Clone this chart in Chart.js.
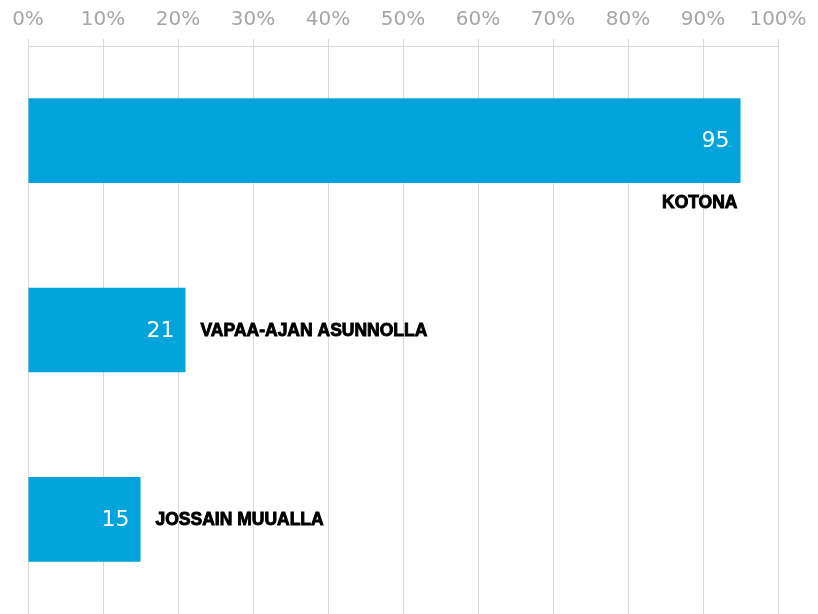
<!DOCTYPE html>
<html>
<head>
<meta charset="utf-8">
<script src="https://cdn.jsdelivr.net/npm/chart.js@4/dist/chart.umd.min.js"></script>
<style>
  html, body { margin: 0; padding: 0; background: #fff; }
  #wrap { width: 818px; height: 614px; position: relative; }
</style>
</head>
<body>
<div id="wrap"><canvas id="places"></canvas></div>
<script>
const categories = ['KOTONA', 'VAPAA-AJAN ASUNNOLLA', 'JOSSAIN MUUALLA'];
const values = [95, 21, 15];
const tickValues = [0, 10, 20, 30, 40, 50, 60, 70, 80, 90, 100];

const BAR = '#00a4db';
const GRID = '#d9d9d9';

// value inside the bar end, category name next to the bar (or under it when it won't fit)
const barLabels = {
    id: 'barLabels',
    afterDatasetsDraw(chart) {
        const ctx = chart.ctx;
        const meta = chart.getDatasetMeta(0);
        const area = chart.chartArea;
        ctx.save();
        meta.data.forEach((bar, i) => {
            ctx.font = '22px "DejaVu Sans", Verdana, sans-serif';
            ctx.fillStyle = '#ffffff';
            ctx.textAlign = 'right';
            ctx.textBaseline = 'middle';
            ctx.fillText(String(values[i]), bar.x - 11, bar.y + 1);

            ctx.font = 'bold 17.5px "Liberation Sans", Arial, sans-serif';
            ctx.fillStyle = '#000000';
            ctx.lineWidth = 0.9;
            ctx.strokeStyle = '#000000';
            const w = ctx.measureText(categories[i]).width;
            let tx, ty;
            if (bar.x + 15 + w > area.right) {
                ctx.textAlign = 'right';
                tx = bar.x - 3;
                ty = bar.y + bar.height / 2 + 20;
            } else {
                ctx.textAlign = 'left';
                tx = bar.x + 15;
                ty = bar.y + 1;
            }
            ctx.fillText(categories[i], tx, ty);
            ctx.strokeText(categories[i], tx, ty);
        });
        ctx.restore();
    }
};

new Chart(document.getElementById('places'), {
    type: 'bar',
    data: {
        labels: categories,
        datasets: [{
            data: values,
            backgroundColor: BAR,
            borderWidth: 0,
            categoryPercentage: 1.0,
            barPercentage: 0.447
        }]
    },
    options: {
        indexAxis: 'y',
        responsive: true,
        maintainAspectRatio: false,
        animation: false,
        layout: { padding: { top: 1, left: 28, right: 40, bottom: 0 } },
        plugins: {
            legend: { display: false },
            tooltip: { enabled: false }
        },
        scales: {
            x: {
                position: 'top',
                min: 0,
                max: 100,
                afterBuildTicks: (scale) => { scale.ticks = tickValues.map(v => ({ value: v })); },
                ticks: {
                    callback: (v) => v + '%',
                    color: '#a6a6a6',
                    font: { family: '"DejaVu Sans", Verdana, sans-serif', size: 20 },
                    padding: 7,
                    maxRotation: 0
                },
                grid: { color: GRID, lineWidth: 1, tickLength: 7, tickColor: GRID },
                border: { display: true, color: GRID }
            },
            y: {
                display: false
            }
        }
    },
    plugins: [barLabels]
});
</script>
</body>
</html>
